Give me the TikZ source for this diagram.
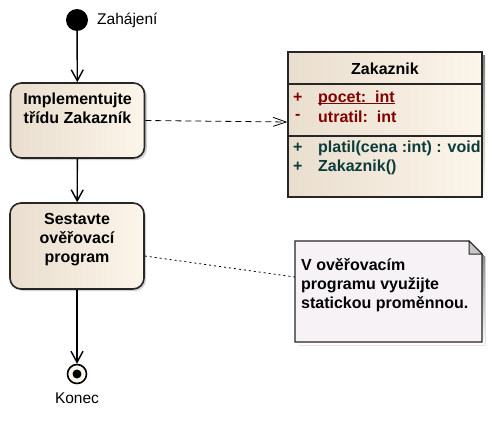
\documentclass[tikz,border=0pt]{standalone}
\usepackage{fontspec}
\setmainfont{Liberation Sans}
\usetikzlibrary{arrows.meta,calc}
\definecolor{actL}{HTML}{E9DECE}
\definecolor{actR}{HTML}{FCF5EA}
\definecolor{attr}{HTML}{800000}
\definecolor{oper}{HTML}{0B3B3B}
\definecolor{notefill}{HTML}{F6F2F6}
\definecolor{shade}{HTML}{9A9A9A}
\tikzset{
  actbox/.style={draw=black!85, line width=1.6pt, rounded corners=11pt,
    left color=actL, right color=actR, minimum width=134pt, minimum height=#1, inner sep=0pt},
  acttext/.style={font=\bfseries\fontsize{16}{19}\selectfont, align=center, anchor=north, inner sep=0pt},
  flow/.style={line width=1.4pt, -{Straight Barb[length=11pt,width=12pt,line width=1.4pt]}},
  dep/.style={line width=0.8pt, dash pattern=on 6pt off 4pt, -{Straight Barb[length=13pt,width=9pt,line width=0.8pt]}},
  anch/.style={line width=0.8pt, dash pattern=on 2pt off 3pt},
  lbl/.style={font=\fontsize{15.5}{18}\selectfont, inner sep=0pt},
  clstext/.style={font=\bfseries\fontsize{16}{18}\selectfont, inner sep=0pt, anchor=west},
}
\begin{document}
\begin{tikzpicture}[x=1pt,y=-1pt]
\useasboundingbox[fill=white] (0,0) rectangle (492,423);
% start
\node[circle, fill=black, minimum size=22pt, inner sep=0pt] (start) at (77,20) {};
\node[lbl, anchor=west] (startlbl) at (97,20) {Zahájení};
% activities
\fill[black!18, rounded corners=11pt] (12,85) rectangle (147,160);
\node[actbox=75pt] (act1) at (77.5,120.5) {};
\node[acttext] (act1t) at (77.5,93) {Implementujte\\třídu Zakazník};
\fill[black!18, rounded corners=11pt] (12,205) rectangle (146,291);
\node[actbox=86pt] (act2) at (77,246) {};
\node[acttext] (act2t) at (77,213) {Sestavte\\ověřovací\\program};
% final
\node[circle, draw=black, line width=1.6pt, fill=actR, minimum size=19pt, inner sep=0pt] (final) at (77,374) {};
\node[circle, fill=black, minimum size=9pt, inner sep=0pt] (finaldot) at (final.center) {};
\node[lbl] (finallbl) at (77,398) {Konec};
% class
\fill[shade] (291,55) rectangle (485,200);
\node[draw=black!85, line width=1.4pt, left color=actL, right color=actR, minimum width=194pt, minimum height=145pt, inner sep=0pt] (cls) at (385,124.5) {};
\draw[black!85, line width=1.4pt] (cls.west |- 0,84) -- (cls.east |- 0,84);
\draw[black!85, line width=1.4pt] (cls.west |- 0,136) -- (cls.east |- 0,136);
\node[font=\bfseries\fontsize{16}{18}\selectfont, inner sep=0pt] (clsname) at (385,69) {Zakaznik};
\node[clstext, text=attr] (a1s) at (293,98) {+};
\node[clstext, text=attr] (a1) at (318,98) {pocet:\ \ int};
\draw[attr, line width=1pt] ([yshift=-1.5pt]a1.base west) -- ([yshift=-1.5pt]a1.base east);
\node[clstext, text=attr] (a2s) at (295,117) {-};
\node[clstext, text=attr] (a2) at (318,117) {utratil:\ \ int};
\node[clstext, text=oper] (o1s) at (293,148) {+};
\node[clstext, text=oper] (o1) at (318,148) {platil(cena :int) : void};
\node[clstext, text=oper] (o2s) at (293,167) {+};
\node[clstext, text=oper] (o2) at (318,167) {Zakaznik()};
% note
\fill[shade] (298,244) -- (472,244) -- (485,257) -- (485,345) -- (298,345) -- cycle;
\draw[black!85, line width=1.4pt, fill=notefill] (295,241) -- (469,241) -- (482,254) -- (482,342) -- (295,342) -- cycle;
\draw[black!85, line width=1pt, fill=black!22] (469,241) -- (469,254) -- (482,254) -- cycle;
\node[inner sep=0pt, minimum width=187pt, minimum height=101pt] (note) at (388.5,291.5) {};
\node[font=\bfseries\fontsize{16}{19}\selectfont, align=left, anchor=north west, inner sep=0pt] (notetext) at (301,258) {V ověřovacím\\programu využijte\\statickou proměnnou.};
% connectors
\draw[flow] (start) -- (act1);
\draw[flow] (act1) -- (act2);
\draw[flow] (act2) -- (final);
\draw[dep] (act1.east) -- ([yshift=2.5pt]cls.west);
\draw[anch] ([yshift=-10pt]act2.east) -- ([yshift=14.5pt]note.west);
\end{tikzpicture}
\end{document}
